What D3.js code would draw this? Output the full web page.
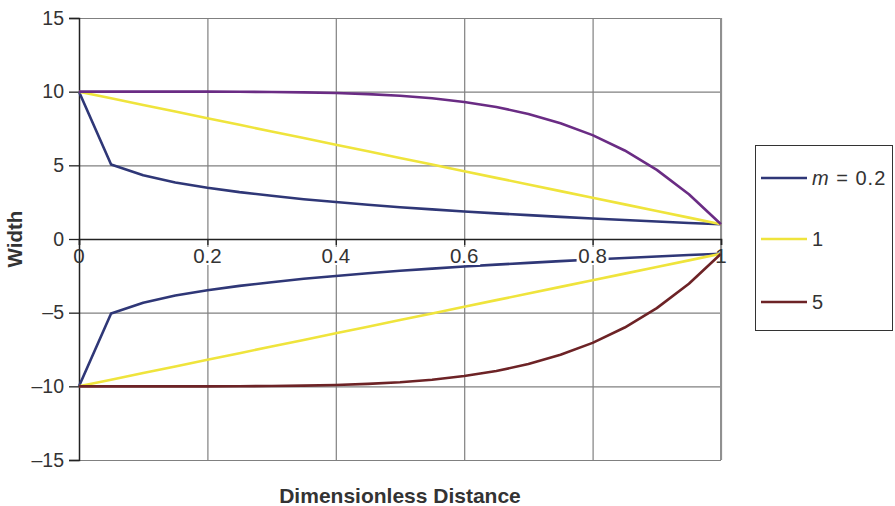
<!DOCTYPE html>
<html>
<head>
<meta charset="utf-8">
<script src="https://cdn.jsdelivr.net/npm/d3@7"></script>
<style>
  body { margin: 0; background: #fff; }
  svg { font-family: "Liberation Sans", Arial, sans-serif; }
</style>
</head>
<body>
<script>
// data, x = dimensionless distance
const xValues = [0, 0.05, 0.1, 0.15, 0.2, 0.25, 0.3, 0.35, 0.4, 0.45, 0.5,
  0.55, 0.6, 0.65, 0.7, 0.75, 0.8, 0.85, 0.9, 0.95, 1];
const widthM02 = [10, 5.06, 4.32, 3.84, 3.48, 3.18, 2.93, 2.70, 2.51, 2.33, 2.16,
  2.01, 1.87, 1.74, 1.62, 1.50, 1.39, 1.29, 1.19, 1.09, 1];
const widthM1 = [10, 9.55, 9.1, 8.65, 8.2, 7.75, 7.3, 6.85, 6.4, 5.95, 5.5,
  5.05, 4.6, 4.15, 3.7, 3.25, 2.8, 2.35, 1.9, 1.45, 1];
const widthM5 = [10, 10, 10, 10, 10, 9.99, 9.98, 9.95, 9.91, 9.83, 9.72,
  9.55, 9.30, 8.96, 8.49, 7.86, 7.05, 6.01, 4.69, 3.04, 1];
const legendLabels = ["0.2", "1", "5"];
const xTicks = [0, 0.2, 0.4, 0.6, 0.8, 1];
const yTicks = [-15, -10, -5, 0, 5, 10, 15];

const W = 895, H = 506;
const margin = { left: 79, right: 174, top: 18, bottom: 46 };

const svg = d3.select("body").append("svg").attr("width", W).attr("height", H);

const x = d3.scaleLinear().domain([0, 1]).range([margin.left, W - margin.right]);
const y = d3.scaleLinear().domain([-15, 15]).range([H - margin.bottom, margin.top]);

// grid
svg.append("g")
  .attr("transform", "translate(0," + y(-15) + ")")
  .call(d3.axisBottom(x).tickValues(xTicks.slice(1)).tickSize(-(y(-15) - y(15))).tickFormat(""))
  .call(g => g.select(".domain").remove())
  .selectAll("line").attr("stroke", "#808080").attr("stroke-width", 1.2);
svg.append("g")
  .attr("transform", "translate(" + x(0) + ",0)")
  .call(d3.axisLeft(y).tickValues(yTicks).tickSize(-(x(1) - x(0))).tickFormat(""))
  .call(g => g.select(".domain").remove())
  .selectAll("line").attr("stroke", "#808080").attr("stroke-width", 1.2);
// right border a bit heavier
svg.append("line")
  .attr("x1", x(1)).attr("x2", x(1)).attr("y1", y(15)).attr("y2", y(-15))
  .attr("stroke", "#909090").attr("stroke-width", 2);

// curves
const line = d3.line().x((d, i) => x(xValues[i])).y(d => y(d));
const series = [
  { vals: widthM02, color: "#2f3777" },
  { vals: widthM1, color: "#efe43c" },
  { vals: widthM5, color: "#6a2c84" },
  { vals: widthM02.map(v => -v), color: "#2f3777" },
  { vals: widthM1.map(v => -v), color: "#efe43c" },
  { vals: widthM5.map(v => -v), color: "#6d2326" }
];

// y axis
const yAxis = svg.append("g")
  .attr("transform", "translate(" + x(0) + ",0)")
  .call(d3.axisLeft(y).tickValues(yTicks).tickSize(10).tickPadding(5)
    .tickFormat(d => d < 0 ? "\u2013" + Math.abs(d) : d));
yAxis.select(".domain").attr("stroke", "#222").attr("stroke-width", 1.5);
yAxis.selectAll("line").attr("stroke", "#222").attr("stroke-width", 1.3);
yAxis.selectAll("text").attr("font-size", 19.5).attr("fill", "#333");

// x axis at zero
const xAxis = svg.append("g")
  .attr("transform", "translate(0," + y(0) + ")")
  .call(d3.axisBottom(x).tickValues(xTicks).tickSize(6).tickFormat(""));
xAxis.select(".domain").attr("stroke", "#222").attr("stroke-width", 1.5);
xAxis.selectAll("line").attr("stroke", "#222").attr("stroke-width", 1.3);

svg.selectAll(".curve").data(series).enter().append("path")
  .attr("class", "curve")
  .attr("d", d => line(d.vals))
  .attr("fill", "none")
  .attr("stroke", d => d.color)
  .attr("stroke-width", 2.6)
  .attr("stroke-linejoin", "round");

// x tick labels on top of curves, with white backing
const xLab = svg.append("g").selectAll("g").data(xTicks).enter().append("g")
  .attr("transform", d => "translate(" + x(d) + ",263)");
xLab.append("rect")
  .attr("x", -16).attr("y", -16)
  .attr("width", 32).attr("height", 18)
  .attr("fill", d => d === 0 || d === 1 ? "none" : "#fff");
xLab.append("text")
  .attr("text-anchor", "middle")
  .attr("font-size", 20.5).attr("fill", "#333")
  .text(d => d3.format("")(d));

// axis titles
svg.append("text")
  .attr("x", x(0.5)).attr("y", 503)
  .attr("text-anchor", "middle")
  .attr("font-size", 21).attr("font-weight", "bold").attr("fill", "#333")
  .text("Dimensionless Distance");
svg.append("text")
  .attr("transform", "translate(22," + y(0) + ") rotate(-90)")
  .attr("text-anchor", "middle")
  .attr("font-size", 20.5).attr("font-weight", "bold").attr("fill", "#333")
  .text("Width");

// legend
const legend = svg.append("g");
legend.append("rect")
  .attr("x", 755.5).attr("y", 145.5).attr("width", 137).attr("height", 185)
  .attr("fill", "#fff").attr("stroke", "#333").attr("stroke-width", 1);
const legColors = ["#2f3777", "#efe43c", "#6d2326"];
const legY = [178, 239, 302];
legendLabels.forEach((lab, i) => {
  legend.append("line")
    .attr("x1", 761).attr("x2", 807).attr("y1", legY[i]).attr("y2", legY[i])
    .attr("stroke", legColors[i]).attr("stroke-width", 2.6);
  const t = legend.append("text")
    .attr("x", 812).attr("y", legY[i] + 7)
    .attr("font-size", 20).attr("letter-spacing", 1).attr("fill", "#333");
  if (i === 0) {
    t.append("tspan").attr("font-style", "italic").text("m");
    t.append("tspan").text(" = " + lab);
  } else {
    t.text(lab);
  }
});
</script>
</body>
</html>
